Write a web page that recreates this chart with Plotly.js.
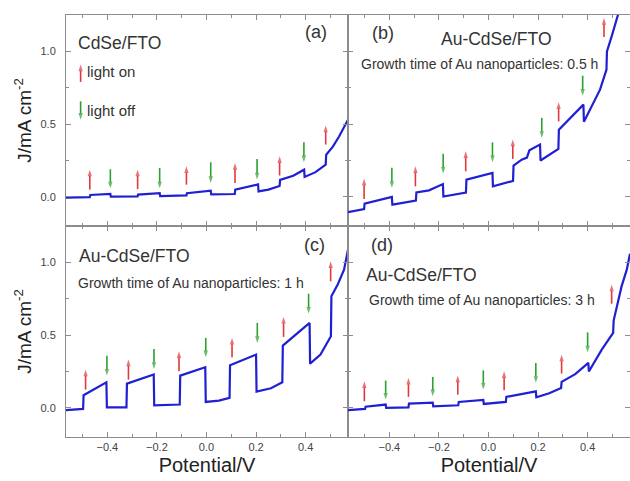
<!DOCTYPE html>
<html>
<head>
<meta charset="utf-8">
<script src="https://cdn.plot.ly/plotly-3.0.1.min.js"></script>
<style>html,body{margin:0;padding:0;background:#fff;}#chart{width:630px;height:481px;}</style>
</head>
<body>
<div id="chart"></div>
<script>
// ---- Panel (a): CdSe/FTO ----
var potA = [-0.567,-0.471,-0.469,-0.388,-0.386,-0.278,-0.276,-0.189,-0.187,-0.081,-0.079,0.017,0.019,0.114,0.116,0.208,0.21,0.25,0.295,0.297,0.35,0.394,0.396,0.44,0.481,0.483,0.51,0.535,0.571];
var curA = [-0.005,-0.002,0.013,0.02,0.002,0.004,0.016,0.026,0.006,0.01,0.025,0.042,0.018,0.02,0.05,0.086,0.038,0.05,0.075,0.117,0.145,0.187,0.137,0.17,0.222,0.29,0.345,0.415,0.53];
var onXA = [-0.471,-0.278,-0.081,0.115,0.295,0.481];
var onLoA = [0.05,0.054,0.084,0.096,0.147,0.36];
var onHiA = [0.187,0.187,0.21,0.233,0.279,0.49];
var offXA = [-0.388,-0.189,0.017,0.204,0.393];
var offHiA = [0.19,0.198,0.238,0.261,0.375];
var offLoA = [0.059,0.059,0.096,0.12,0.238];

// ---- Panel (b): Au-CdSe/FTO, 0.5 h ----
var potB = [-0.567,-0.502,-0.5,-0.39,-0.388,-0.293,-0.291,-0.24,-0.184,-0.182,-0.091,-0.089,0.016,0.018,0.099,0.101,0.134,0.155,0.165,0.208,0.21,0.282,0.284,0.383,0.385,0.416,0.45,0.476,0.478,0.497,0.524];
var curB = [-0.105,-0.083,-0.047,0.0,-0.053,-0.025,0.03,0.045,0.088,0.003,0.03,0.118,0.165,0.072,0.11,0.215,0.256,0.27,0.32,0.36,0.25,0.33,0.462,0.634,0.517,0.622,0.737,0.874,1.0,1.103,1.26];
var onXB = [-0.502,-0.295,-0.092,0.098,0.283,0.466];
var onLoB = [-0.014,0.073,0.176,0.261,0.519,1.099];
var onHiB = [0.124,0.21,0.313,0.394,0.65,1.229];
var offXB = [-0.39,-0.183,0.016,0.215,0.38];
var offHiB = [0.2,0.297,0.375,0.543,0.833];
var offLoB = [0.062,0.16,0.238,0.405,0.695];

// ---- Panel (c): Au-CdSe/FTO, 1 h ----
var potC = [-0.567,-0.498,-0.496,-0.404,-0.402,-0.323,-0.321,-0.213,-0.211,-0.108,-0.106,-0.005,-0.003,0.05,0.093,0.095,0.2,0.202,0.26,0.306,0.308,0.416,0.418,0.46,0.502,0.504,0.53,0.555,0.571];
var curC = [-0.016,-0.007,0.087,0.176,0.004,0.004,0.167,0.229,0.018,0.023,0.222,0.279,0.041,0.05,0.069,0.293,0.366,0.112,0.135,0.176,0.428,0.584,0.304,0.366,0.492,0.767,0.85,0.95,1.087];
var onXC = [-0.488,-0.315,-0.111,0.103,0.311,0.501];
var onLoC = [0.126,0.194,0.251,0.348,0.488,0.87];
var onHiC = [0.263,0.332,0.389,0.481,0.625,1.007];
var offXC = [-0.402,-0.212,-0.003,0.205,0.412];
var offHiC = [0.359,0.405,0.481,0.584,0.785];
var offLoC = [0.222,0.268,0.348,0.446,0.648];

// ---- Panel (d): Au-CdSe/FTO, 3 h ----
var potD = [-0.567,-0.498,-0.496,-0.415,-0.413,-0.323,-0.321,-0.225,-0.223,-0.122,-0.12,-0.021,-0.019,0.07,0.072,0.191,0.193,0.245,0.293,0.295,0.35,0.403,0.405,0.457,0.503,0.505,0.537,0.558,0.571];
var curD = [-0.016,-0.007,0.008,0.023,0.0,0.003,0.03,0.036,0.011,0.018,0.041,0.055,0.027,0.041,0.076,0.114,0.073,0.1,0.137,0.179,0.232,0.309,0.25,0.4,0.515,0.6,0.835,0.95,1.06];
var onXD = [-0.501,-0.323,-0.124,0.063,0.295,0.497];
var onLoD = [0.046,0.076,0.091,0.121,0.236,0.716];
var onHiD = [0.183,0.206,0.222,0.251,0.366,0.847];
var offXD = [-0.415,-0.225,-0.021,0.191,0.4];
var offHiD = [0.188,0.213,0.258,0.309,0.519];
var offLoD = [0.057,0.08,0.126,0.172,0.382];

// legend arrows in panel (a)
var legendOnX = [-0.508];
var legendOnLo = [0.79];
var legendOnHi = [0.909];
var legendOffX = [-0.508];
var legendOffHi = [0.657];
var legendOffLo = [0.53];
var legendText = ['light on', 'light off'];
var legendTextY = [0.861, 0.593];

var curveColor = '#2020d2';
var onColor = '#e0383c';
var offColor = '#2ca02c';
var axisGray = '#8c8c8c';
var FONT = 'Liberation Sans, Arial, sans-serif';

var panels = [
  {x: potA, y: curA, xa: 'x', ya: 'y', onX: onXA, onLo: onLoA, onHi: onHiA, offX: offXA, offHi: offHiA, offLo: offLoA},
  {x: potB, y: curB, xa: 'x2', ya: 'y2', onX: onXB, onLo: onLoB, onHi: onHiB, offX: offXB, offHi: offHiB, offLo: offLoB},
  {x: potC, y: curC, xa: 'x3', ya: 'y3', onX: onXC, onLo: onLoC, onHi: onHiC, offX: offXC, offHi: offHiC, offLo: offLoC},
  {x: potD, y: curD, xa: 'x4', ya: 'y4', onX: onXD, onLo: onLoD, onHi: onHiD, offX: offXD, offHi: offHiD, offLo: offLoD}
];

var traces = [];

// arrows drawn as line segments ending with an arrow marker (tail -> tip)
function arrowTrace(xa, ya, xs, tails, tips, color) {
  var X = [], Y = [], S = [];
  xs.forEach(function (xv, i) {
    X.push(xv, xv, null);
    Y.push(tails[i], tips[i], null);
    S.push(0, 7, 0);
  });
  return {x: X, y: Y, xaxis: xa, yaxis: ya, type: 'scatter', mode: 'lines+markers',
    line: {color: color, width: 1.6},
    marker: {symbol: 'arrow', angleref: 'previous', size: S, color: color, line: {width: 0}},
    hoverinfo: 'none', showlegend: false, connectgaps: false};
}

panels.forEach(function (p) {
  traces.push({x: p.x, y: p.y, xaxis: p.xa, yaxis: p.ya, type: 'scatter', mode: 'lines',
    line: {color: curveColor, width: 2.2}, hoverinfo: 'none', showlegend: false});
  traces.push(arrowTrace(p.xa, p.ya, p.onX, p.onLo, p.onHi, onColor));
  traces.push(arrowTrace(p.xa, p.ya, p.offX, p.offHi, p.offLo, offColor));
});
traces.push(arrowTrace('x', 'y', legendOnX, legendOnLo, legendOnHi, onColor));
traces.push(arrowTrace('x', 'y', legendOffX, legendOffHi, legendOffLo, offColor));

var annotations = [];
legendText.forEach(function (t, i) {
  annotations.push({xref: 'x', yref: 'y', x: -0.49, y: legendTextY[i], text: t, showarrow: false,
    xanchor: 'left', yanchor: 'middle', font: {family: FONT, size: 15, color: '#333'}});
});

function label(xa, ya, x, y, t, size) {
  return {xref: xa, yref: ya, x: x, y: y, text: t, showarrow: false, xanchor: 'center', yanchor: 'middle',
    font: {family: FONT, size: size, color: '#333'}};
}
annotations.push(label('x', 'y', -0.352, 1.058, 'CdSe/FTO', 17.5));
annotations.push(label('x', 'y', 0.44, 1.13, '(a)', 18));
annotations.push(label('x2', 'y2', -0.427, 1.126, '(b)', 18));
annotations.push(label('x2', 'y2', 0.033, 1.087, 'Au-CdSe/FTO', 17.5));
annotations.push(label('x2', 'y2', -0.038, 0.916, 'Growth time of Au nanoparticles: 0.5 h', 14));
annotations.push(label('x3', 'y3', 0.436, 1.122, '(c)', 18));
annotations.push(label('x3', 'y3', -0.289, 1.041, 'Au-CdSe/FTO', 17.5));
annotations.push(label('x3', 'y3', -0.061, 0.859, 'Growth time of Au nanoparticles: 1 h', 14));
annotations.push(label('x4', 'y4', -0.431, 1.122, '(d)', 18));
annotations.push(label('x4', 'y4', -0.269, 0.915, 'Au-CdSe/FTO', 17.5));
annotations.push(label('x4', 'y4', -0.027, 0.739, 'Growth time of Au nanoparticles: 3 h', 14));

function xAxis(domain, anchor, showLabels, title) {
  var a = {domain: domain, anchor: anchor, range: [-0.567, 0.571], tick0: 0, dtick: 0.2,
    tickformat: '.1f', ticks: 'inside', ticklen: 5, tickcolor: axisGray, tickwidth: 1,
    minor: {dtick: 0.1, tick0: 0, ticks: 'inside', ticklen: 3, tickcolor: axisGray},
    showline: true, linecolor: axisGray, linewidth: 1, mirror: 'ticks', showgrid: false, zeroline: false,
    showticklabels: showLabels, tickfont: {family: FONT, size: 11, color: '#444'}, fixedrange: true};
  if (title) a.title = {text: title, font: {family: FONT, size: 20, color: '#222'}, standoff: 5};
  return a;
}
function yAxis(domain, anchor, showLabels, title) {
  var a = {domain: domain, anchor: anchor, range: [-0.2, 1.25], tick0: 0, dtick: 0.5,
    tickformat: '.1f', ticks: 'inside', ticklen: 5, tickcolor: axisGray, tickwidth: 1,
    minor: {dtick: 0.25, tick0: 0, ticks: 'inside', ticklen: 3, tickcolor: axisGray},
    showline: true, linecolor: axisGray, linewidth: 1, mirror: 'ticks', showgrid: false, zeroline: false,
    showticklabels: showLabels, ticklabelstandoff: 7,
    tickfont: {family: FONT, size: 11, color: '#444'}, fixedrange: true};
  if (title) a.title = {text: title, font: {family: FONT, size: 19, color: '#222'}, standoff: 3};
  return a;
}

var layout = {
  width: 630, height: 481,
  margin: {l: 66, r: 0, t: 15, b: 44, pad: 0},
  paper_bgcolor: '#fff', plot_bgcolor: '#fff',
  showlegend: false,
  xaxis: xAxis([0, 0.5], 'y', false),
  xaxis2: xAxis([0.5, 1], 'y2', false),
  xaxis3: xAxis([0, 0.5], 'y3', true, 'Potential/V'),
  xaxis4: xAxis([0.5, 1], 'y4', true, 'Potential/V'),
  yaxis: yAxis([0.5, 1], 'x', true, 'J/mA cm<sup>-2</sup>'),
  yaxis2: yAxis([0.5, 1], 'x2', false),
  yaxis3: yAxis([0, 0.5], 'x3', true, 'J/mA cm<sup>-2</sup>'),
  yaxis4: yAxis([0, 0.5], 'x4', false),
  annotations: annotations
};

Plotly.newPlot('chart', traces, layout, {displayModeBar: false, staticPlot: true});
</script>
</body>
</html>
